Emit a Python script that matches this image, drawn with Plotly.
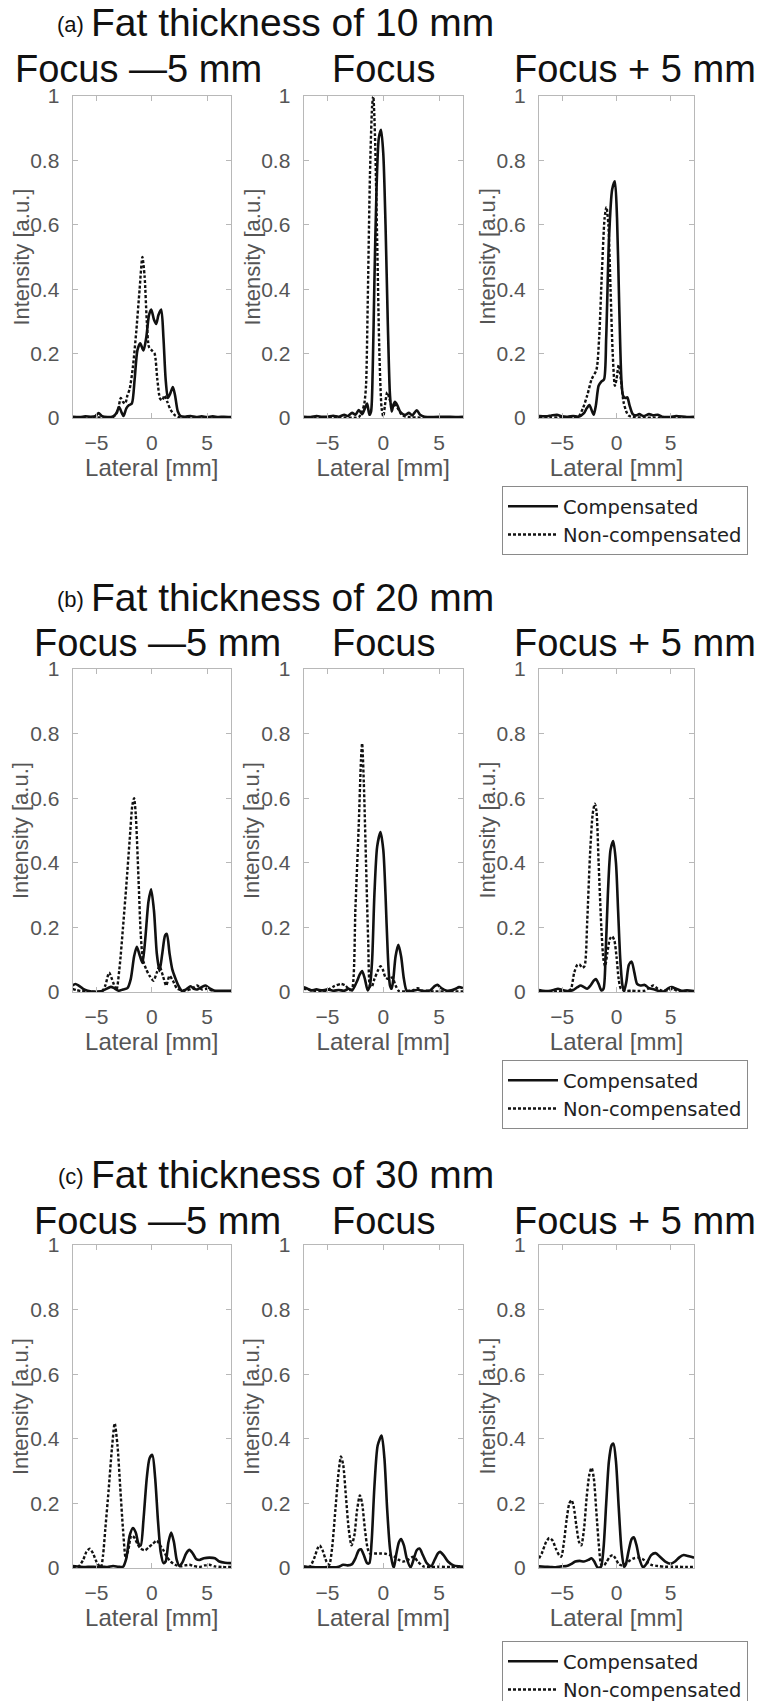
import plotly.graph_objects as go

W, H = 759, 1701

# ---------------- data ----------------
# Row (a): fat thickness 10 mm
a1_comp_x = [-7.15, -6.5, -6, -5.5, -5.1, -4.8, -4.5, -4, -3.5, -3.2, -2.95, -2.7, -2.55, -2.3, -2.05, -1.8, -1.55, -1.3, -1.05, -0.75, -0.5, -0.25, -0.05, 0.2, 0.4, 0.6, 0.85, 1.05, 1.25, 1.45, 1.65, 1.9, 2.1, 2.35, 2.6, 3, 3.5, 4, 4.5, 5, 5.5, 6, 6.5, 7.15]
a1_comp_y = [0.004, 0.003, 0.005, 0.004, 0.006, 0.015, 0.006, 0.003, 0.005, 0.015, 0.034, 0.015, 0.006, 0.03, 0.04, 0.045, 0.12, 0.21, 0.232, 0.21, 0.25, 0.32, 0.337, 0.305, 0.292, 0.32, 0.337, 0.25, 0.12, 0.062, 0.075, 0.096, 0.07, 0.02, 0.006, 0.004, 0.006, 0.003, 0.005, 0.003, 0.005, 0.003, 0.004, 0.003]
a1_non_x = [-7.15, -5, -3.5, -3.1, -2.8, -2.6, -2.4, -2.2, -2.0, -1.7, -1.4, -1.1, -0.85, -0.65, -0.45, -0.25, 0.0, 0.25, 0.5, 0.75, 0.95, 1.15, 1.4, 1.7, 2.1, 2.5, 7.15]
a1_non_y = [0.002, 0.002, 0.003, 0.02, 0.062, 0.05, 0.045, 0.07, 0.09, 0.16, 0.27, 0.4, 0.5, 0.44, 0.3, 0.22, 0.21, 0.2, 0.12, 0.06, 0.055, 0.07, 0.05, 0.025, 0.008, 0.002, 0.002]

a2_comp_x = [-7.15, -6.5, -6, -5.5, -5, -4.5, -4, -3.5, -3.2, -2.8, -2.5, -2.2, -1.9, -1.65, -1.45, -1.25, -1.1, -0.95, -0.8, -0.6, -0.4, -0.2, 0.0, 0.2, 0.4, 0.6, 0.75, 0.9, 1.05, 1.25, 1.5, 1.75, 2.0, 2.3, 2.6, 3.0, 3.3, 3.7, 4.5, 5.5, 6.5, 7.15]
a2_comp_y = [0.004, 0.003, 0.006, 0.004, 0.004, 0.007, 0.004, 0.01, 0.006, 0.016, 0.01, 0.025, 0.012, 0.03, 0.045, 0.01, 0.02, 0.15, 0.42, 0.72, 0.87, 0.895, 0.82, 0.6, 0.3, 0.07, 0.02, 0.04, 0.05, 0.04, 0.02, 0.012, 0.01, 0.016, 0.008, 0.024, 0.01, 0.004, 0.003, 0.004, 0.003, 0.004]
a2_non_x = [-7.15, -4, -2.2, -1.9, -1.7, -1.55, -1.4, -1.2, -1.0, -0.9, -0.75, -0.55, -0.35, -0.15, 0.0, 0.15, 0.35, 0.55, 0.8, 1.05, 1.3, 1.6, 2.0, 7.15]
a2_non_y = [0.002, 0.002, 0.003, 0.02, 0.045, 0.1, 0.35, 0.75, 0.97, 1.0, 0.88, 0.55, 0.2, 0.03, 0.005, 0.04, 0.08, 0.06, 0.035, 0.04, 0.03, 0.012, 0.004, 0.002]

a3_comp_x = [-7.15, -6.5, -6, -5.5, -5, -4.5, -4, -3.5, -3.0, -2.75, -2.5, -2.3, -2.1, -1.9, -1.65, -1.4, -1.15, -0.95, -0.7, -0.4, -0.15, 0.05, 0.25, 0.45, 0.6, 0.8, 1.0, 1.2, 1.5, 1.8, 2.1, 2.5, 3.0, 3.4, 3.8, 4.2, 5, 5.5, 6.5, 7.15]
a3_comp_y = [0.006, 0.005, 0.008, 0.01, 0.005, 0.004, 0.006, 0.004, 0.015, 0.03, 0.04, 0.025, 0.01, 0.04, 0.1, 0.113, 0.12, 0.25, 0.55, 0.71, 0.735, 0.62, 0.35, 0.12, 0.07, 0.062, 0.064, 0.04, 0.012, 0.008, 0.012, 0.006, 0.012, 0.008, 0.01, 0.004, 0.003, 0.006, 0.003, 0.004]
a3_non_x = [-7.15, -4, -3.5, -3.1, -2.7, -2.3, -1.85, -1.6, -1.35, -1.1, -0.93, -0.75, -0.55, -0.35, -0.15, 0.0, 0.2, 0.4, 0.65, 0.9, 1.1, 1.5, 7.15]
a3_non_y = [0.002, 0.002, 0.005, 0.03, 0.07, 0.12, 0.15, 0.25, 0.45, 0.62, 0.655, 0.6, 0.4, 0.2, 0.1, 0.12, 0.165, 0.12, 0.05, 0.02, 0.008, 0.003, 0.002]

# Row (b): fat thickness 20 mm
b1_comp_x = [-7.15, -6.9, -6.6, -6.2, -5.8, -5.3, -4.6, -4.2, -3.7, -3.4, -3.0, -2.6, -2.2, -1.9, -1.6, -1.36, -1.15, -0.85, -0.6, -0.3, -0.06, 0.2, 0.45, 0.7, 0.95, 1.2, 1.36, 1.6, 1.85, 2.1, 2.4, 2.7, 3.1, 3.5, 3.8, 4.1, 4.5, 4.85, 5.2, 5.6, 6.2, 7.15]
b1_comp_y = [0.02, 0.025, 0.02, 0.01, 0.004, 0.001, 0.002, 0.008, 0.016, 0.012, 0.004, 0.008, 0.012, 0.04, 0.11, 0.14, 0.12, 0.09, 0.16, 0.28, 0.318, 0.25, 0.12, 0.065, 0.12, 0.175, 0.18, 0.12, 0.07, 0.045, 0.02, 0.004, 0.008, 0.018, 0.01, 0.008, 0.015, 0.02, 0.012, 0.005, 0.004, 0.004]
b1_non_x = [-7.15, -6.8, -6.4, -5.5, -4.5, -4.2, -3.85, -3.5, -3.2, -2.9, -2.6, -2.3, -2.0, -1.75, -1.6, -1.45, -1.2, -1.0, -0.8, -0.5, -0.2, 0.15, 0.45, 0.7, 1.0, 1.3, 1.6, 1.9, 2.3, 3.0, 3.6, 4.1, 4.5, 5.0, 5.6, 7.15]
b1_non_y = [0.01, 0.006, 0.003, 0.002, 0.002, 0.02, 0.06, 0.03, 0.006, 0.08, 0.2, 0.33, 0.47, 0.58, 0.6, 0.55, 0.35, 0.18, 0.1, 0.07, 0.05, 0.035, 0.06, 0.08, 0.05, 0.02, 0.05, 0.035, 0.01, 0.004, 0.01, 0.02, 0.008, 0.01, 0.003, 0.003]

b2_comp_x = [-7.15, -6.9, -6.5, -6.0, -5.5, -5.0, -4.5, -4.0, -3.5, -3.1, -2.8, -2.4, -2.1, -1.9, -1.65, -1.4, -1.2, -1.0, -0.8, -0.55, -0.25, 0.0, 0.2, 0.4, 0.6, 0.75, 0.9, 1.1, 1.35, 1.6, 1.85, 2.1, 2.5, 3.1, 3.6, 4.2, 4.6, 4.85, 5.2, 5.7, 6.1, 6.5, 6.8, 7.15]
b2_comp_y = [0.015, 0.012, 0.005, 0.008, 0.005, 0.008, 0.004, 0.006, 0.004, 0.01, 0.005, 0.03, 0.055, 0.065, 0.04, 0.005, 0.02, 0.1, 0.3, 0.45, 0.495, 0.44, 0.3, 0.12, 0.02, 0.01, 0.04, 0.11, 0.146, 0.11, 0.04, 0.004, 0.003, 0.007, 0.003, 0.005, 0.018, 0.022, 0.012, 0.004, 0.005, 0.01, 0.015, 0.012]
b2_non_x = [-7.15, -6.7, -6.2, -5.6, -5.0, -4.4, -3.8, -3.4, -3.0, -2.8, -2.5, -2.2, -2.0, -1.9, -1.75, -1.55, -1.35, -1.2, -1.05, -0.8, -0.5, -0.25, -0.05, 0.2, 0.5, 0.8, 1.1, 1.4, 2.0, 2.7, 3.1, 3.5, 4.0, 4.5, 7.15]
b2_non_y = [0.01, 0.008, 0.003, 0.001, 0.006, 0.018, 0.025, 0.02, 0.006, 0.01, 0.26, 0.52, 0.72, 0.77, 0.65, 0.4, 0.15, 0.02, 0.015, 0.04, 0.065, 0.08, 0.07, 0.045, 0.04, 0.045, 0.02, 0.003, 0.002, 0.006, 0.012, 0.004, 0.004, 0.002, 0.002]

b3_comp_x = [-7.15, -6.8, -6.3, -5.8, -5.4, -5.0, -4.5, -4.0, -3.6, -3.3, -3.0, -2.7, -2.4, -2.1, -1.9, -1.65, -1.4, -1.2, -1.0, -0.8, -0.55, -0.3, -0.05, 0.15, 0.35, 0.55, 0.7, 0.9, 1.15, 1.4, 1.65, 1.9, 2.2, 2.6, 3.0, 3.5, 4.0, 4.4, 4.8, 5.1, 5.5, 6.0, 6.5, 7.15]
b3_comp_y = [0.006, 0.004, 0.003, 0.006, 0.01, 0.006, 0.003, 0.006, 0.015, 0.02, 0.015, 0.01, 0.02, 0.035, 0.04, 0.025, 0.005, 0.01, 0.12, 0.3, 0.44, 0.467, 0.4, 0.25, 0.1, 0.02, 0.003, 0.03, 0.085, 0.094, 0.06, 0.025, 0.02, 0.022, 0.012, 0.008, 0.002, 0.002, 0.012, 0.015, 0.01, 0.004, 0.005, 0.003]
b3_non_x = [-7.15, -5.5, -4.5, -4.2, -3.9, -3.6, -3.4, -3.15, -2.95, -2.7, -2.45, -2.2, -2.0, -1.85, -1.65, -1.4, -1.2, -1.05, -0.85, -0.6, -0.4, -0.2, 0.0, 0.2, 0.4, 0.8, 1.4, 2.0, 2.6, 3.0, 3.4, 3.8, 4.2, 4.8, 5.2, 5.6, 7.15]
b3_non_y = [0.002, 0.002, 0.002, 0.01, 0.06, 0.085, 0.085, 0.075, 0.08, 0.22, 0.42, 0.55, 0.583, 0.56, 0.4, 0.2, 0.1, 0.08, 0.12, 0.165, 0.172, 0.16, 0.11, 0.04, 0.01, 0.004, 0.004, 0.003, 0.004, 0.012, 0.02, 0.01, 0.004, 0.006, 0.01, 0.004, 0.002]

# Row (c): fat thickness 30 mm
c1_comp_x = [-7.15, -6.5, -6, -5.5, -5, -4.5, -4, -3.5, -3, -2.6, -2.3, -2.0, -1.7, -1.45, -1.2, -1.0, -0.75, -0.45, -0.2, 0.05, 0.3, 0.55, 0.8, 1.05, 1.25, 1.5, 1.75, 2.0, 2.25, 2.5, 2.8, 3.1, 3.4, 3.7, 4.0, 4.3, 4.7, 5.2, 5.7, 6.1, 6.6, 7.15]
c1_comp_y = [0.006, 0.004, 0.003, 0.004, 0.003, 0.004, 0.003, 0.006, 0.004, 0.004, 0.03, 0.1, 0.124, 0.11, 0.075, 0.07, 0.15, 0.28, 0.34, 0.35, 0.28, 0.15, 0.05, 0.015, 0.02, 0.08, 0.11, 0.08, 0.025, 0.006, 0.02, 0.045, 0.056, 0.045, 0.028, 0.025, 0.03, 0.032, 0.03, 0.02, 0.016, 0.015]
c1_non_x = [-7.15, -6.6, -6.2, -5.9, -5.6, -5.3, -5.0, -4.6, -4.4, -4.2, -3.9, -3.6, -3.35, -3.1, -2.85, -2.6, -2.35, -2.1, -1.85, -1.6, -1.3, -1.0, -0.6, -0.25, 0.1, 0.45, 0.75, 1.05, 1.35, 1.7, 2.1, 2.6, 3.0, 3.4, 3.8, 4.3, 4.8, 5.2, 5.7, 6.3, 7.15]
c1_non_y = [0.003, 0.005, 0.025, 0.05, 0.06, 0.045, 0.02, 0.002, 0.04, 0.12, 0.24, 0.37, 0.448, 0.38, 0.25, 0.12, 0.03, 0.06, 0.1, 0.095, 0.075, 0.06, 0.055, 0.065, 0.075, 0.085, 0.07, 0.055, 0.035, 0.02, 0.01, 0.005, 0.008, 0.01, 0.006, 0.003, 0.008, 0.01, 0.005, 0.003, 0.003]

c2_comp_x = [-7.15, -6.5, -6, -5.5, -5, -4.5, -4.0, -3.6, -3.2, -2.8, -2.5, -2.2, -2.0, -1.75, -1.45, -1.25, -1.05, -0.8, -0.5, -0.15, 0.1, 0.35, 0.6, 0.85, 0.95, 1.15, 1.4, 1.6, 1.85, 2.1, 2.45, 2.75, 3.0, 3.25, 3.55, 3.9, 4.3, 4.6, 4.9, 5.1, 5.4, 5.8, 6.3, 6.8, 7.15]
c2_comp_y = [0.004, 0.003, 0.002, 0.002, 0.003, 0.002, 0.004, 0.01, 0.008, 0.012, 0.03, 0.055, 0.058, 0.04, 0.015, 0.015, 0.08, 0.25, 0.38, 0.41, 0.34, 0.18, 0.06, 0.01, 0.002, 0.04, 0.08, 0.09, 0.07, 0.03, 0.002, 0.03, 0.055, 0.06, 0.04, 0.015, 0.006, 0.025, 0.045, 0.05, 0.04, 0.02, 0.008, 0.005, 0.004]
c2_non_x = [-7.15, -6.6, -6.2, -5.9, -5.7, -5.45, -5.1, -4.85, -4.6, -4.3, -4.0, -3.8, -3.6, -3.35, -3.1, -2.85, -2.6, -2.35, -2.1, -1.9, -1.65, -1.4, -1.2, -0.8, -0.3, 0.2, 0.6, 1.0, 1.4, 1.8, 2.2, 2.7, 3.1, 3.6, 4.2, 5, 6, 7.15]
c2_non_y = [0.005, 0.004, 0.03, 0.06, 0.07, 0.055, 0.02, 0.01, 0.06, 0.18, 0.3, 0.345, 0.32, 0.22, 0.12, 0.07, 0.1, 0.18, 0.225, 0.2, 0.12, 0.06, 0.045, 0.045, 0.045, 0.044, 0.04, 0.035, 0.025, 0.02, 0.025, 0.035, 0.02, 0.005, 0.003, 0.004, 0.003, 0.003]

c3_comp_x = [-7.15, -6.6, -6.1, -5.6, -5.1, -4.6, -4.2, -3.8, -3.4, -3.0, -2.6, -2.3, -2.05, -1.75, -1.45, -1.2, -0.95, -0.7, -0.45, -0.28, -0.05, 0.2, 0.45, 0.7, 0.85, 1.1, 1.4, 1.6, 1.85, 2.1, 2.45, 2.8, 3.2, 3.6, 4.0, 4.5, 5.0, 5.4, 5.8, 6.2, 6.6, 7.15]
c3_comp_y = [0.005, 0.004, 0.003, 0.002, 0.005, 0.006, 0.012, 0.02, 0.022, 0.02, 0.025, 0.03, 0.02, 0.002, 0.003, 0.06, 0.2, 0.33, 0.38, 0.385, 0.33, 0.19, 0.06, 0.004, 0.01, 0.05, 0.09, 0.095, 0.07, 0.03, 0.002, 0.015, 0.04, 0.046, 0.035, 0.02, 0.013, 0.02, 0.033, 0.04, 0.037, 0.032]
c3_non_x = [-7.15, -6.9, -6.5, -6.2, -5.9, -5.6, -5.3, -5.1, -4.85, -4.6, -4.35, -4.15, -3.95, -3.7, -3.45, -3.25, -3.0, -2.75, -2.5, -2.3, -2.1, -1.85, -1.6, -1.4, -1.15, -0.9, -0.6, -0.35, -0.1, 0.2, 0.5, 0.9, 1.3, 1.6, 2.0, 2.4, 2.8, 3.2, 3.8, 4.5, 5.5, 6.5, 7.15]
c3_non_y = [0.03, 0.045, 0.08, 0.093, 0.085, 0.06, 0.04, 0.035, 0.08, 0.15, 0.2, 0.21, 0.19, 0.13, 0.08, 0.07, 0.12, 0.22, 0.29, 0.31, 0.28, 0.17, 0.06, 0.01, 0.008, 0.02, 0.035, 0.04, 0.03, 0.012, 0.008, 0.015, 0.025, 0.03, 0.032, 0.028, 0.018, 0.01, 0.006, 0.004, 0.004, 0.003, 0.003]

row_titles = ["Fat thickness of 10 mm", "Fat thickness of 20 mm", "Fat thickness of 30 mm"]
row_tags = ["(a)", "(b)", "(c)"]
col_titles = ["Focus \u20145 mm", "Focus", "Focus + 5 mm"]
series_names = ["Compensated", "Non-compensated"]
x_ticks = [-5, 0, 5]
y_ticks = [0, 0.2, 0.4, 0.6, 0.8, 1]
y_ticklabels = ["0", "0.2", "0.4", "0.6", "0.8", "1"]

panels = [
    [(a1_comp_x, a1_comp_y, a1_non_x, a1_non_y),
     (a2_comp_x, a2_comp_y, a2_non_x, a2_non_y),
     (a3_comp_x, a3_comp_y, a3_non_x, a3_non_y)],
    [(b1_comp_x, b1_comp_y, b1_non_x, b1_non_y),
     (b2_comp_x, b2_comp_y, b2_non_x, b2_non_y),
     (b3_comp_x, b3_comp_y, b3_non_x, b3_non_y)],
    [(c1_comp_x, c1_comp_y, c1_non_x, c1_non_y),
     (c2_comp_x, c2_comp_y, c2_non_x, c2_non_y),
     (c3_comp_x, c3_comp_y, c3_non_x, c3_non_y)],
]

# ---------------- layout geometry (pixels) ----------------
COL_PX = [(72.6, 231.0), (303.6, 463.0), (539.0, 694.0)]
ROW_PX = [(96, 418), (669, 992), (1245, 1568)]
TITLE_Y = [22, 597, 1174]
SUB_Y = [69, 643, 1221]
SUB_X = [[13, 330, 512], [32, 330, 512], [32, 330, 512]]
LEG_TOP = [486, 1060, 1641]

FONT = "Liberation Sans, Arial, Helvetica, sans-serif"
LEG_FONT = "DejaVu Sans, Liberation Sans, sans-serif"
GRAY = "#555555"
FRAME = "#b8b8b8"
INK = "#111111"


def fx(px):
    return px / W


def fy(py):
    return 1 - py / H


fig = go.Figure()
layout = {}
annotations = []
legend_ids = ["legend", "legend2", "legend3"]

for r in range(3):
    for c in range(3):
        idx = r * 3 + c + 1
        xa = "x" if idx == 1 else f"x{idx}"
        ya = "y" if idx == 1 else f"y{idx}"
        cx, cy, nx, ny = panels[r][c]
        show = (c == 2)
        fig.add_trace(go.Scatter(
            x=cx, y=cy, xaxis=xa, yaxis=ya, mode="lines",
            name=series_names[0], legend=legend_ids[r], showlegend=show,
            line=dict(color=INK, width=2.6, shape="spline", smoothing=0.7),
            hoverinfo="skip"))
        fig.add_trace(go.Scatter(
            x=nx, y=ny, xaxis=xa, yaxis=ya, mode="lines",
            name=series_names[1], legend=legend_ids[r], showlegend=show,
            line=dict(color=INK, width=2.4, dash="3px,2px", shape="spline", smoothing=0.7),
            hoverinfo="skip"))

        x0, x1 = COL_PX[c]
        y0, y1 = ROW_PX[r]
        axis_common = dict(
            showline=True, linecolor=FRAME, linewidth=1, mirror="ticks",
            ticks="inside", ticklen=5, tickcolor=FRAME, tickwidth=1,
            showgrid=False, zeroline=False, automargin=False,
            tickfont=dict(family=FONT, size=21, color=GRAY),
        )
        layout["xaxis" if idx == 1 else f"xaxis{idx}"] = dict(
            axis_common, domain=[fx(x0), fx(x1)], anchor=ya,
            range=[-7.15, 7.15], tickvals=x_ticks, ticklabelstandoff=6,
            title=dict(text="Lateral [mm]", standoff=5,
                       font=dict(family=FONT, size=24, color=GRAY)))
        layout["yaxis" if idx == 1 else f"yaxis{idx}"] = dict(
            axis_common, domain=[fy(y1), fy(y0)], anchor=xa,
            range=[0, 1], tickvals=y_ticks, ticktext=y_ticklabels,
            ticklabelstandoff=8)
        annotations.append(dict(
            text="Intensity [a.u.]", textangle=-90, showarrow=False,
            xref="paper", yref="paper", x=fx(x0 - 52), y=fy((y0 + y1) / 2),
            xanchor="center", yanchor="middle",
            font=dict(family=FONT, size=22, color=GRAY)))
        annotations.append(dict(
            text=col_titles[c], showarrow=False, xref="paper", yref="paper",
            x=fx(SUB_X[r][c]), y=fy(SUB_Y[r]), xanchor="left", yanchor="middle",
            font=dict(family=FONT, size=38, color=INK)))

    annotations.append(dict(
        text=row_tags[r], showarrow=False, xref="paper", yref="paper",
        x=fx(86), y=fy(TITLE_Y[r] + 2), xanchor="right", yanchor="middle",
        font=dict(family=FONT, size=22, color=INK)))
    annotations.append(dict(
        text=row_titles[r], showarrow=False, xref="paper", yref="paper",
        x=fx(89), y=fy(TITLE_Y[r]), xanchor="left", yanchor="middle",
        font=dict(family=FONT, size=39, color=INK)))

    layout[legend_ids[r]] = dict(
        x=fx(502), y=fy(LEG_TOP[r]), xanchor="left", yanchor="top",
        bgcolor="white", bordercolor="#8a8a8a", borderwidth=1,
        font=dict(family=LEG_FONT, size=19.5, color="#222222"),
        tracegroupgap=0, itemwidth=50)

fig.update_layout(
    width=W, height=H, margin=dict(l=0, r=0, t=0, b=0, autoexpand=False),
    paper_bgcolor="white", plot_bgcolor="white",
    annotations=annotations, **layout)

fig.write_html("out.html", config={"displayModeBar": False},
               post_script="document.body.style.margin='0px';")
